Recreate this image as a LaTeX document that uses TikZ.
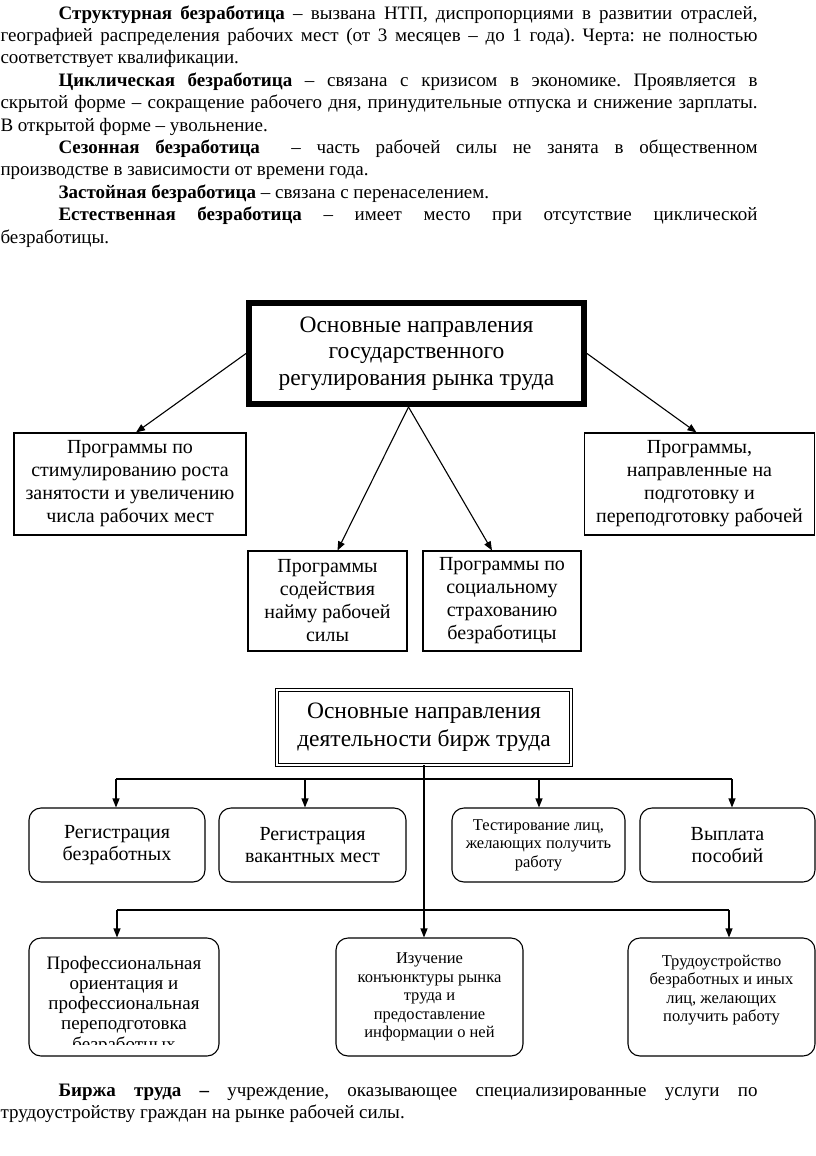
\documentclass[tikz,border=0pt]{standalone}
\usepackage{fontspec}
\setmainfont{Liberation Serif}
\usetikzlibrary{arrows.meta}
\frenchspacing

\begin{document}
\begin{tikzpicture}[x=1pt,y=-1pt,>={Triangle[length=9pt,width=7pt]},line width=1.1pt,
  para/.style={anchor=north west,inner sep=0pt,text width=757pt,align=justify,font=\fontsize{19}{22.4}\selectfont},
  head/.style={draw,align=center,inner sep=0pt,font=\fontsize{23.5}{26.5}\selectfont},
  prog/.style={draw,align=center,inner sep=0pt,font=\fontsize{20}{23}\selectfont},
  task/.style={draw,rounded corners=12pt,align=center,inner sep=0pt,font=\fontsize{20}{22}\selectfont},
  small/.style={font=\fontsize{16.5}{18.5}\selectfont}]
  \useasboundingbox (0,0) rectangle (816,1156);

  % text above the schemes
  \node[para] (intro) at (0,5) {\hspace*{58pt}\textbf{Структурная безработица} – вызвана НТП, диспропорциями в развитии отраслей,\linebreak
    географией распределения рабочих мест (от 3 месяцев – до 1 года). Черта: не полностью\linebreak
    соответствует квалификации.\par
    \hspace*{58pt}\textbf{Циклическая безработица} – связана с кризисом в экономике. Проявляется в\linebreak
    скрытой форме – сокращение рабочего дня, принудительные отпуска и снижение зарплаты.\linebreak
    В открытой форме – увольнение.\par
    \hspace*{58pt}\textbf{Сезонная безработица}\ \ – часть рабочей силы не занята в общественном\linebreak
    производстве в зависимости от времени года.\par
    \hspace*{58pt}\textbf{Застойная безработица} – связана с перенаселением.\par
    \hspace*{58pt}\textbf{Естественная безработица} – имеет место при отсутствие циклической\linebreak
    безработицы.};

  % state regulation
  \node[head,line width=4pt,minimum width=337pt,minimum height=103pt] (gov) at (416.5,353.5) {Основные направления\\государственного\\регулирования рынка труда};
  \draw ([shift={(5,5)}]gov.north west) rectangle ([shift={(-5,-5)}]gov.south east);

  \node[prog,minimum width=232pt,minimum height=102pt] (stim) at (130,484) {Программы по\\стимулированию роста\\занятости и увеличению\\числа рабочих мест};
  \node[prog,minimum width=230pt,minimum height=102pt] (train) at (699.5,484) {Программы,\\направленные на\\подготовку и\\переподготовку рабочей};
  \node[prog,minimum width=159pt,minimum height=100pt] (hire) at (327.5,601) {Программы\\содействия\\найму рабочей\\силы};
  \node[prog,minimum width=158pt,minimum height=100pt] (insur) at (502,601) {Программы по\\социальному\\страхованию\\безработицы};

  \draw[->] (gov.west) -- ([xshift=6pt]stim.north);
  \draw[->] (gov.east) -- ([xshift=-3pt]train.north);
  \draw[->] ([xshift=-8pt]gov.south) -- ([xshift=10pt]hire.north);
  \draw[->] ([xshift=-8pt]gov.south) -- ([xshift=-10pt]insur.north);

  % labour exchange
  \node[head,double,double distance=2.5pt,line width=0.9pt,minimum width=294pt,minimum height=75pt,font=\fontsize{23.5}{28}\selectfont] (exch) at (424,727.5) {Основные направления\\деятельности бирж труда};

  \node[task,minimum width=176pt,minimum height=74pt] (regu) at (117,845) {Регистрация\\безработных};
  \node[task,minimum width=187pt,minimum height=74pt] (regv) at (312.5,845) {Регистрация\\вакантных мест};
  \node[task,small,minimum width=173pt,minimum height=74pt] (test) at (538.5,845) {Тестирование лиц,\\желающих получить\\работу};
  \node[task,minimum width=175pt,minimum height=74pt] (pay) at (727.5,845) {Выплата\\пособий};

  \node[task,minimum width=190pt,minimum height=118pt] (prof) at (124,997) {};
  \node[task,small,minimum width=187pt,minimum height=118pt] (study) at (429.5,997) {Изучение\\конъюнктуры рынка\\труда и\\предоставление\\информации о ней};
  \node[task,minimum width=187pt,minimum height=118pt] (job) at (721.5,997) {};
  \node[small,align=center,anchor=north] (jobtxt) at (721.5,951) {Трудоустройство\\безработных и иных\\лиц, желающих\\получить работу};
  \begin{scope}
    \clip (29,938) rectangle (219,1044);
    \node[align=center,anchor=north,font=\fontsize{19}{20.3}\selectfont] (proftxt) at (124,952) {Профессиональная\\ориентация и\\профессиональная\\переподготовка\\безработных};
  \end{scope}

  \coordinate (u1) at (116,779);
  \coordinate (u2) at (305,779);
  \coordinate (u3) at (539,779);
  \coordinate (u4) at (732,779);
  \coordinate (w1) at (117,910);
  \coordinate (w3) at (729,910);

  \draw[->] (exch.south) -- (exch.south |- study.north);
  \draw (u1) -- (u4);
  \draw[->] (u1) -- (u1 |- regu.north);
  \draw[->] (u2) -- (u2 |- regv.north);
  \draw[->] (u3) -- (u3 |- test.north);
  \draw[->] (u4) -- (u4 |- pay.north);
  \draw (w1) -- (w3);
  \draw[->] (w1) -- (w1 |- prof.north);
  \draw[->] (w3) -- (w3 |- job.north);

  % text below
  \node[para] (birzha) at (0,1083) {\hspace*{58pt}\textbf{Биржа труда –} учреждение, оказывающее специализированные услуги по\linebreak
    трудоустройству граждан на рынке рабочей силы.};
\end{tikzpicture}
\end{document}
